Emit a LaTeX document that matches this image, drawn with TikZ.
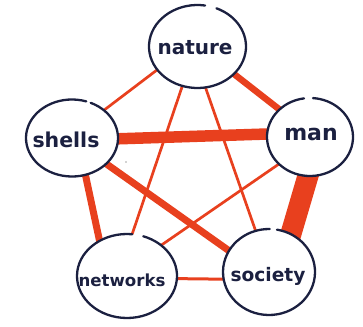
\documentclass[tikz,border=0pt]{standalone}
\usepackage{fontspec}
\setmainfont{DejaVu Sans}
\usetikzlibrary{shapes.geometric}
\definecolor{ink}{HTML}{1B2040}
\definecolor{mark}{HTML}{E8401E}
\begin{document}
\begin{tikzpicture}[x=1pt,y=-1pt,
  hub/.style={ellipse, inner sep=0pt, outer sep=0pt},
  tie/.style={draw=mark, line cap=butt, shorten <=-5pt, shorten >=-5pt},
  rim/.style={draw=ink, line width=2.3pt, line cap=round},
  word/.style={text=ink, anchor=base, inner sep=0pt}]
\useasboundingbox (0,0) rectangle (363,326);
% hubs
\node[hub, minimum width=97pt, minimum height=83pt] (nat) at (197.5,46.5) {};
\node[hub, minimum width=92pt, minimum height=77pt] (she) at (72,138) {};
\node[hub, minimum width=86pt, minimum height=78pt] (man) at (310,137) {};
\node[hub, minimum width=100pt, minimum height=84pt] (net) at (127,276) {};
\node[hub, minimum width=92pt, minimum height=86pt] (soc) at (269,272) {};
% connectors
\draw[tie, line width=2.7pt] (nat.210) -- (she.41);
\draw[tie, line width=6.5pt] (nat.-37) -- (man.138);
\draw[tie, line width=2.7pt] (nat.249) -- (net.83);
\draw[tie, line width=2.7pt] (nat.-79.5) -- (soc.108);
\draw[tie, line width=11.5pt] (she.-1) -- (man.176);
\draw[tie, line width=7pt] (she.-37) -- (soc.152);
\draw[tie, line width=7pt] (she.-70) -- (net.128);
\draw[tie, line width=2.7pt] (man.221) -- (net.42);
\draw[tie, line width=21pt] (man.-93) -- (soc.60);
\draw[tie, line width=3pt] (net.-3.5) -- (soc.189);
% white insides
\fill[white] (nat.center) ellipse [x radius=48.5pt, y radius=41.5pt];
\fill[white] (she.center) ellipse [x radius=46pt, y radius=38.5pt];
\fill[white] (man.center) ellipse [x radius=43pt, y radius=39pt];
\fill[white] (net.center) ellipse [x radius=50pt, y radius=42pt];
\fill[white] (soc.center) ellipse [x radius=46pt, y radius=43pt];
% open hand-drawn rims
\draw[rim] (nat.center) ++(81:48.5pt and 41.5pt) arc[start angle=81, end angle=427, x radius=48.5pt, y radius=41.5pt];
\draw[rim] (she.center) ++(72:46pt and 38.5pt) arc[start angle=72, end angle=426, x radius=46pt, y radius=38.5pt];
\draw[rim] (man.center) ++(98:43pt and 39pt) arc[start angle=98, end angle=446, x radius=43pt, y radius=39pt];
\draw[rim] (net.center) ++(84:50pt and 42pt) arc[start angle=84, end angle=431, x radius=50pt, y radius=42pt];
\draw[rim] (soc.center) ++(89:46pt and 43pt) arc[start angle=89, end angle=440, x radius=46pt, y radius=43pt];
% words
\node[word, font=\bfseries\fontsize{20}{20}\selectfont] (natT) at (195,55) {nature};
\node[word, font=\bfseries\fontsize{20.5}{20}\selectfont] (sheT) at (66,147) {shells};
\node[word, font=\bfseries\fontsize{22}{20}\selectfont] (manT) at (311,140) {man};
\node[word, font=\bfseries\fontsize{16.6}{20}\selectfont] (netT) at (122,286) {networks};
\node[word, font=\bfseries\fontsize{18.6}{20}\selectfont] (socT) at (268,281) {society};
% speck
\fill[gray!70] (126,162) circle (0.8pt);
\end{tikzpicture}
\end{document}
